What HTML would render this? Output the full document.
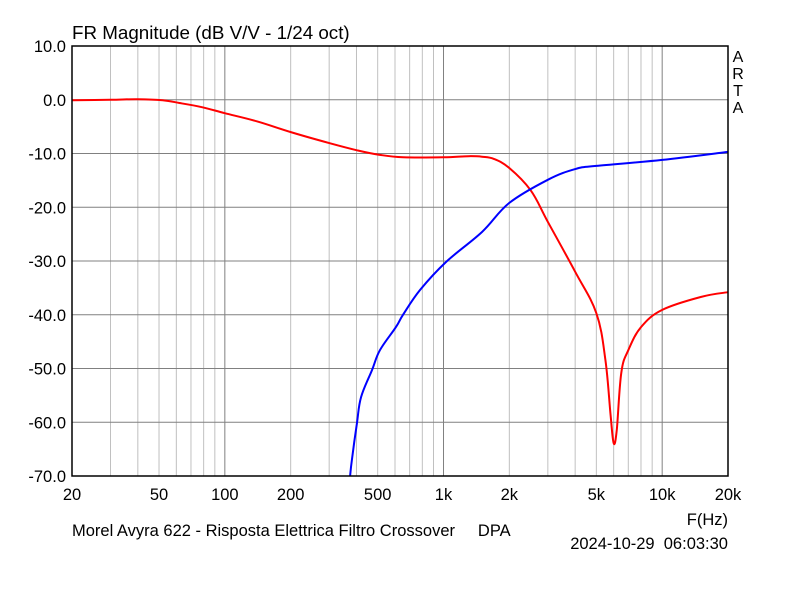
<!DOCTYPE html>
<html><head><meta charset="utf-8"><style>
body{margin:0;background:#fff;width:800px;height:594px;overflow:hidden}
svg{display:block;font-family:"Liberation Sans",sans-serif}
text{white-space:pre}
</style></head><body>
<svg id="chart" width="800" height="594">
<text x="72" y="39" font-size="18.8">FR Magnitude (dB V/V - 1/24 oct)</text>
<g font-size="16" text-anchor="middle">
<text x="738" y="62">A</text><text x="738" y="79">R</text><text x="738" y="96">T</text><text x="738" y="113">A</text></g>
<text x="72" y="536" font-size="16.5" xml:space="preserve">Morel Avyra 622 - Risposta Elettrica Filtro Crossover     DPA</text>
<text x="728" y="525" font-size="16.5" text-anchor="end">F(Hz)</text>
<text x="728" y="549" font-size="16.5" text-anchor="end" xml:space="preserve">2024-10-29  06:03:30</text>
<g id="grid"></g><g id="axes"></g><g id="series"></g>
<rect x="72" y="46" width="656" height="430" fill="none" stroke="#000" stroke-width="1.5"/>
</svg>
<script>
const yTicks=[10,0,-10,-20,-30,-40,-50,-60,-70];
const xTickLabels=[[20,"20"],[50,"50"],[100,"100"],[200,"200"],[500,"500"],[1000,"1k"],[2000,"2k"],[5000,"5k"],[10000,"10k"],[20000,"20k"]];
const redFreq=[20,30,40,52,62,79,100,140,203,303,402,502,653,1000,1300,1500,1700,2000,2500,3000,4000,5000,5500,5800,6000,6200,6500,7000,8000,10000,15000,20000];
const redDb=[-0.1,0,0.1,-0.1,-0.6,-1.4,-2.5,-4,-6.1,-8.1,-9.4,-10.2,-10.7,-10.7,-10.5,-10.6,-11,-12.7,-16.8,-22.7,-32,-39.7,-48.4,-58.3,-63.9,-61.4,-50.8,-46.6,-42.3,-39.1,-36.7,-35.8];
const blueFreq=[374,381,402,420,471,512,606,653,781,1026,1500,2000,3000,4000,5000,10000,20000];
const blueDb=[-70,-67,-60.1,-55.3,-50.3,-46.6,-42.3,-40,-35.4,-30.2,-24.6,-19.2,-14.9,-12.9,-12.3,-11.2,-9.7];
const X0=72,X1=728,Y0=46,Y1=476;
const xs=f=>X0+(Math.log10(f)-Math.log10(20))/3*(X1-X0);
const ys=d=>Y0+(10-d)/80*(Y1-Y0);
const NS="http://www.w3.org/2000/svg";
function mk(tag,attrs,parent){const e=document.createElementNS(NS,tag);for(const k in attrs)e.setAttribute(k,attrs[k]);document.getElementById(parent).appendChild(e);return e;}
for(let dec=10;dec<=10000;dec*=10){for(let m=1;m<=9;m++){const f=dec*m;if(f<=20||f>=20000)continue;
 const l=mk("line",{x1:xs(f),x2:xs(f),y1:Y0,y2:Y1,stroke:m===1?"#808080":"#c0c0c0","stroke-width":1},"grid");
 
 }}
yTicks.forEach(v=>{
 if(v!==10&&v!==-70){const l=mk("line",{x1:X0,x2:X1,y1:ys(v),y2:ys(v),stroke:"#808080","stroke-width":1},"grid");
 
 }
 const t=mk("text",{x:66,y:ys(v)+6,"font-size":16.5,"text-anchor":"end"},"axes");t.textContent=v.toFixed(1);
 
 });
xTickLabels.forEach(([f,s])=>{const t=mk("text",{x:xs(f),y:500,"font-size":16.5,"text-anchor":"middle"},"axes");t.textContent=s;
 
 });
function line(fr,db,col,name){
 const P=fr.map((f,i)=>[xs(f),ys(db[i])]);
 let d="M"+P[0][0].toFixed(1)+","+P[0][1].toFixed(1);
 for(let i=0;i<P.length-1;i++){
  const p0=P[Math.max(0,i-1)],p1=P[i],p2=P[i+1],p3=P[Math.min(P.length-1,i+2)];
  const t=0.18;
  const c1=[p1[0]+(p2[0]-p0[0])*t,p1[1]+(p2[1]-p0[1])*t];
  const c2=[p2[0]-(p3[0]-p1[0])*t,p2[1]-(p3[1]-p1[1])*t];
  d+=" C"+c1[0].toFixed(1)+","+c1[1].toFixed(1)+" "+c2[0].toFixed(1)+","+c2[1].toFixed(1)+" "+p2[0].toFixed(1)+","+p2[1].toFixed(1);
 }
 const e=mk("path",{d:d,fill:"none",stroke:col,"stroke-width":2,"stroke-linejoin":"round"},"series");
 
 }
line(redFreq,redDb,"#ff0000","woofer-response-line");
line(blueFreq,blueDb,"#0000ff","tweeter-response-line");
</script>
</body></html>
